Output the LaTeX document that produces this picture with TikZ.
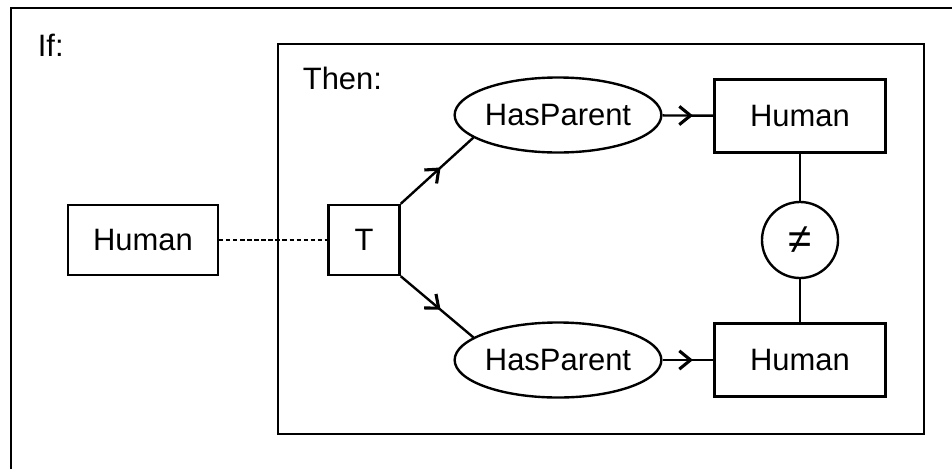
\documentclass[tikz,border=0pt]{standalone}
\usepackage{fontspec}
\setmainfont{Liberation Sans}
\usetikzlibrary{shapes.geometric,decorations.markings,arrows.meta}
\tikzset{
  box/.style={draw,line width=1.7pt,inner sep=0pt},
  relation/.style={draw,ellipse,line width=1.7pt,inner sep=0pt,minimum width=4.8cm,minimum height=1.875cm},
  midarrow/.style={postaction={decorate},decoration={markings,
      mark=at position #1 with {\arrow{Straight Barb[length=8pt,width=13pt,line width=2.2pt]}}}},
  midarrow/.default=0.55
}
\begin{document}
\begin{tikzpicture}[x=0.025cm,y=-0.025cm,line width=1.7pt,font=\fontsize{22}{26}\selectfont]
        \useasboundingbox (0,0) rectangle (952,469);
        % outer and inner frames
        \draw (11,469) -- (11,8) -- (952,8);
        \draw (278,44) rectangle (924,434);
        \node[anchor=west] (if) at (32,45) {If:};
        \node[anchor=west] (then) at (297,78) {Then:};
        % concepts
        \node[box,minimum width=3.75cm,minimum height=1.75cm] (human) at (143,240) {Human};
        \node[box,minimum width=1.775cm,minimum height=1.75cm] (top) at (364,240) {T};
        \node[relation] (hp1) at (558,115) {HasParent};
        \node[relation] (hp2) at (558,360) {HasParent};
        \node[box,minimum width=4.275cm,minimum height=1.825cm] (h1) at (800,116) {Human};
        \node[box,minimum width=4.275cm,minimum height=1.825cm] (h2) at (800,360) {Human};
        \node[draw,circle,inner sep=0pt,minimum size=1.9cm,font=\fontsize{30}{30}\selectfont] (neq) at (800,240) {≠};
        % links
        \draw[line width=1.2pt,dash pattern=on 3pt off 2pt] (human) -- (top);
        \draw[midarrow] (top.north east) -- (hp1.195);
        \draw[midarrow] (top.south east) -- (hp2.165);
        \draw[midarrow=.6] (hp1) -- (h1);
        \draw[midarrow=.6] (hp2) -- (h2);
        \draw (h1) -- (neq) -- (h2);
\end{tikzpicture}
\end{document}
